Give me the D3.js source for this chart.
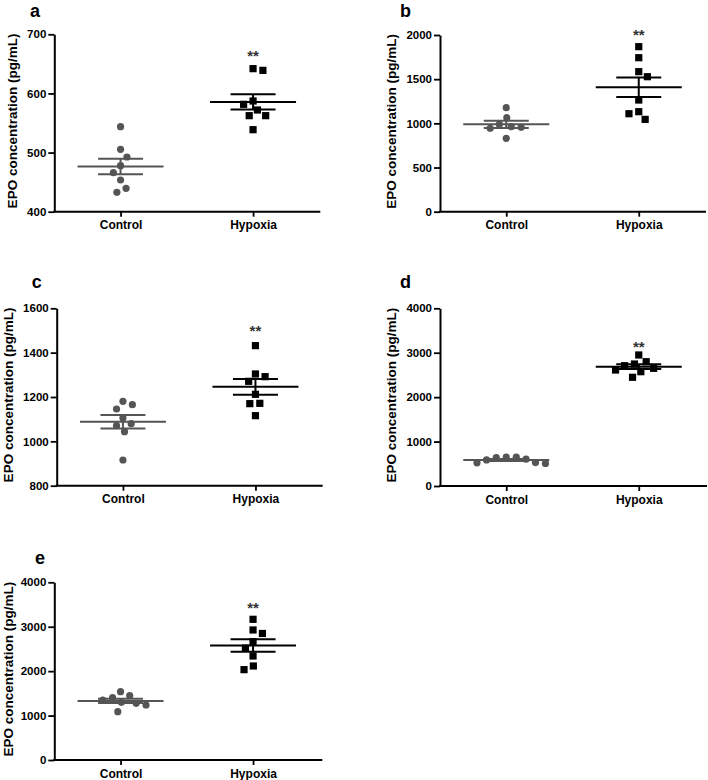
<!DOCTYPE html>
<html>
<head>
<meta charset="utf-8">
<script src="https://cdn.jsdelivr.net/npm/d3@7"></script>
<style>
  html, body { margin: 0; padding: 0; background: #fff; }
  svg { display: block; }
  text { font-family: "Liberation Sans", Arial, sans-serif; font-weight: bold; }
</style>
</head>
<body>
<svg id="chart" width="708" height="780"></svg>
<script>
// ---------------- data ----------------
const categories = ["Control", "Hypoxia"];
const panelLabels = ["a", "b", "c", "d", "e"];
const yAxisTitle = "EPO concentration (pg/mL)";
const sigText = "**";

const controlA = [543.8, 505.5, 492.5, 477.8, 466, 453.6, 439.5, 432.7];
const hypoxiaA = [641.9, 639, 587.2, 581.6, 572, 562.4, 562.4, 538.7];
const controlB = [1177, 1064, 989, 962, 955, 944, 831];
const hypoxiaB = [1868, 1743, 1585, 1528, 1264, 1132, 1109, 1045];
const controlC = [1180.5, 1165.4, 1145.9, 1105.3, 1079.7, 1070.7, 1043.6, 915.8];
const hypoxiaC = [1431.6, 1303.8, 1291.7, 1270.7, 1212, 1171.4, 1170, 1115.8];
const controlD = [653, 648, 638, 603, 588, 528, 521, 508];
const hypoxiaD = [2949, 2798, 2746, 2708, 2649, 2611, 2573, 2447];
const controlE = [1538, 1448, 1403, 1351, 1298, 1276, 1238, 1088];
const hypoxiaE = [3167, 2927, 2848, 2664, 2518, 2341, 2116, 2034];

const yDomains = [[400, 700], [0, 2000], [800, 1600], [0, 4000], [0, 4000]];
const yTicks = [
  [400, 500, 600, 700],
  [0, 500, 1000, 1500, 2000],
  [800, 1000, 1200, 1400, 1600],
  [0, 1000, 2000, 3000, 4000],
  [0, 1000, 2000, 3000, 4000]
];
const sigLevels = [668, 2030, 1510, 3174, 3489];

const groups = [
  [controlA, hypoxiaA],
  [controlB, hypoxiaB],
  [controlC, hypoxiaC],
  [controlD, hypoxiaD],
  [controlE, hypoxiaE]
];

// ---------------- layout ----------------
const layout = [
  { x0: 54.3, w: 266, yTop: 34.3, yBot: 211.7, lx: 30,   ly: 16.8 },
  { x0: 440,  w: 266, yTop: 35,   yBot: 211.7, lx: 400,  ly: 16.8 },
  { x0: 56.7, w: 266, yTop: 308.3, yBot: 485.7, lx: 31.7, ly: 287.5 },
  { x0: 440,  w: 267, yTop: 308.3, yBot: 486,   lx: 400,  ly: 287.5 },
  { x0: 54.3, w: 268, yTop: 582.3, yBot: 760,   lx: 35,   ly: 564 }
];
const colors = ["#555555", "#000000"];
const markerR = 3.6;
const swarmD = 10;

const svg = d3.select("#chart");

function mean(a) { return d3.mean(a); }
function sem(a) { return d3.deviation(a) / Math.sqrt(a.length); }

// simple beeswarm: continuous x offsets, closest to centre, alternating sides
function swarm(vals, y) {
  const placed = [];
  let side = 1;
  return vals.map(v => {
    const py = y(v);
    const cands = [0];
    placed.forEach(p => {
      const dy = Math.abs(p.py - py);
      if (dy < swarmD) {
        const dx = Math.sqrt(swarmD * swarmD - dy * dy);
        cands.push(p.dx + dx + 1e-6, p.dx - dx - 1e-6);
      }
    });
    cands.sort((a, b) => {
      const d = Math.abs(a) - Math.abs(b);
      if (Math.abs(d) > 0.05) return d;
      return (Math.sign(b) === side) - (Math.sign(a) === side);
    });
    let chosen = 0;
    for (const c of cands) {
      const ok = placed.every(p => Math.hypot(p.dx - c, p.py - py) >= swarmD - 1e-3);
      if (ok) { chosen = c; break; }
    }
    placed.push({ dx: chosen, py });
    if (Math.abs(chosen) > 0.5) side = chosen > 0 ? -1 : 1;
    return { v, dx: chosen };
  });
}

layout.forEach((L, i) => {
  const g = svg.append("g");
  const y = d3.scaleLinear().domain(yDomains[i]).range([L.yBot, L.yTop]);
  const x = d3.scalePoint().domain(categories).range([L.x0, L.x0 + 265]).padding(0.5);

  // y axis
  const yAx = g.append("g")
    .attr("transform", `translate(${L.x0},0)`)
    .call(d3.axisLeft(y).tickValues(yTicks[i]).tickSize(6).tickSizeOuter(0).tickPadding(2).tickFormat(d3.format("d")));
  yAx.select(".domain").attr("stroke", "#000").attr("stroke-width", 2);
  yAx.selectAll(".tick line").attr("stroke", "#000").attr("stroke-width", 1.8);
  yAx.selectAll(".tick text").attr("fill", "#000").style("font-size", "11.5px").style("font-weight", "bold")
    .style("font-family", '"Liberation Sans", Arial, sans-serif');

  // x axis
  const xAx = g.append("g")
    .attr("transform", `translate(0,${L.yBot})`)
    .call(d3.axisBottom(x).tickSize(5).tickSizeOuter(0).tickPadding(4));
  xAx.select(".domain").attr("d", `M${L.x0 - 1},0H${L.x0 + L.w}`).attr("stroke", "#000").attr("stroke-width", 2);
  xAx.selectAll(".tick line").attr("stroke", "#000").attr("stroke-width", 1.8);
  xAx.selectAll(".tick text").attr("fill", "#000").style("font-size", "12px").style("font-weight", "bold")
    .style("font-family", '"Liberation Sans", Arial, sans-serif');

  // y title
  let maxW = 0;
  yAx.selectAll(".tick text").each(function () { maxW = Math.max(maxW, this.getComputedTextLength()); });
  const tx = Math.max(L.x0 - 8 - maxW - 10.5, 13);
  const ty = (L.yTop + L.yBot) / 2 - 2;
  g.append("text")
    .attr("transform", `translate(${tx},${ty}) rotate(-90)`)
    .attr("text-anchor", "middle")
    .style("font-size", "13.5px")
    .attr("fill", "#000")
    .text(yAxisTitle);

  // panel label
  g.append("text")
    .attr("x", L.lx).attr("y", L.ly)
    .style("font-size", "18px")
    .attr("fill", "#000")
    .text(panelLabels[i]);

  // groups
  groups[i].forEach((vals, k) => {
    const cx = x(categories[k]);
    const col = colors[k];
    const pts = swarm(vals, y);
    const gg = g.append("g");
    if (k === 0) {
      gg.selectAll("circle").data(pts).join("circle")
        .attr("cx", d => cx + d.dx).attr("cy", d => y(d.v)).attr("r", markerR).attr("fill", col);
    } else {
      gg.selectAll("rect").data(pts).join("rect")
        .attr("x", d => cx + d.dx - markerR).attr("y", d => y(d.v) - markerR)
        .attr("width", markerR * 2).attr("height", markerR * 2).attr("fill", col);
    }
    const m = mean(vals), s = sem(vals);
    gg.append("line").attr("x1", cx - 43).attr("x2", cx + 43).attr("y1", y(m)).attr("y2", y(m))
      .attr("stroke", col).attr("stroke-width", 2);
    gg.append("line").attr("x1", cx - 22.5).attr("x2", cx + 22.5).attr("y1", y(m + s)).attr("y2", y(m + s))
      .attr("stroke", col).attr("stroke-width", 2);
    gg.append("line").attr("x1", cx - 22.5).attr("x2", cx + 22.5).attr("y1", y(m - s)).attr("y2", y(m - s))
      .attr("stroke", col).attr("stroke-width", 2);
    gg.append("line").attr("x1", cx).attr("x2", cx).attr("y1", y(m + s)).attr("y2", y(m - s))
      .attr("stroke", col).attr("stroke-width", 2);
  });

  // significance
  g.append("text")
    .attr("x", x(categories[1])).attr("y", y(sigLevels[i]) + 7.5)
    .attr("text-anchor", "middle")
    .style("font-size", "15px")
    .attr("fill", "#333")
    .text(sigText);
});
</script>
</body>
</html>
